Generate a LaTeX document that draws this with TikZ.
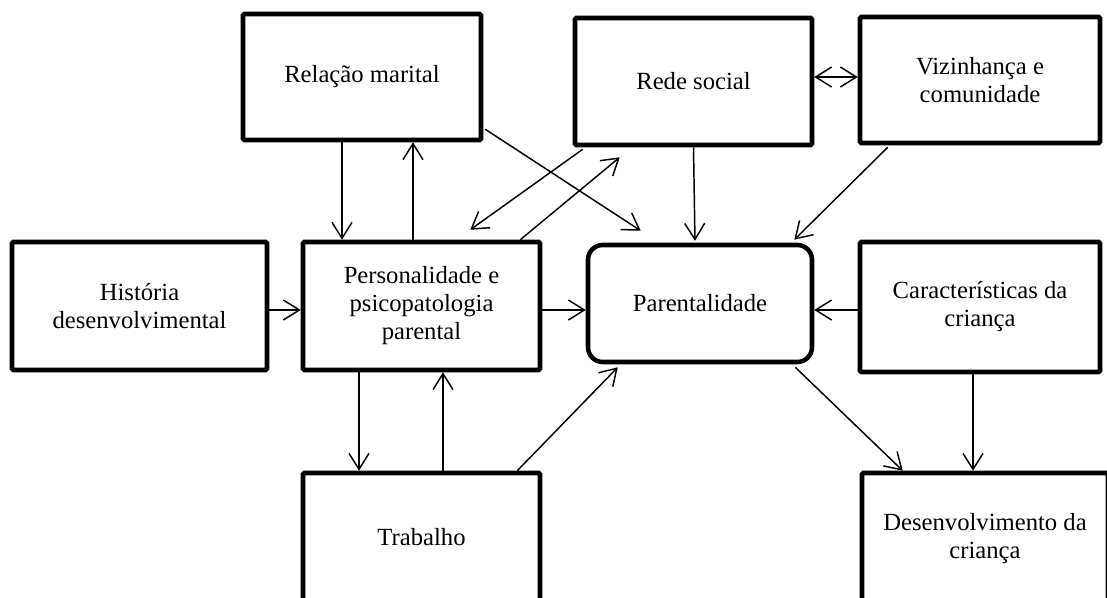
\documentclass[tikz,border=0pt]{standalone}
\usepackage{fontspec}
\setmainfont{Liberation Serif}
\usetikzlibrary{calc,arrows.meta}

\begin{document}
\begin{tikzpicture}[x=0.75pt, y=-0.75pt,
  >={Straight Barb[length=12pt,width=15pt]},
  line width=1.1pt, font=\fontsize{18.5}{21}\selectfont,
  box/.style={draw, line width=3.4pt, rounded corners=1pt, align=center, inner sep=0pt},
  link/.style={->, line width=1.1pt}]
  % x, y in pixels of the page (y runs downwards)
  \useasboundingbox (0,0) rectangle (1107,597);
  \clip (0,0) rectangle (1107,597);

  % boxes
  \node[box, minimum width=178.5pt, minimum height=94.5pt] (rel) at (362,77) {Relação marital};
  \node[box, minimum width=177.75pt, minimum height=95.25pt] (rede) at (693.5,81.5) {Rede social};
  \node[box, minimum width=180pt, minimum height=94.5pt] (viz) at (980,80) {Vizinhança e\\comunidade};
  \node[box, minimum width=191.25pt, minimum height=96pt] (hist) at (139.5,306) {História\\desenvolvimental};
  \node[box, minimum width=177.75pt, minimum height=96pt] (pers) at (421.5,306) {Personalidade e\\psicopatologia\\parental};
  \node[box, rounded corners=11pt, minimum width=168pt, minimum height=87.75pt] (par) at (700,303.5) {Parentalidade};
  \node[box, minimum width=180pt, minimum height=97.5pt] (car) at (980,307) {Características da\\criança};
  \node[box, minimum width=177.75pt, minimum height=96pt] (trab) at (421.5,537) {Trabalho};
  \node[box, minimum width=184.5pt, minimum height=99pt] (des) at (985,539) {Desenvolvimento da\\criança};

  % arrows, top row
  \draw[link] (342,0 |- rel.south) -- (342,0 |- pers.north);
  \draw[link] (413,0 |- pers.north) -- (413,0 |- rel.south);
  \draw[link] ([shift={(2,-13)}]rel.south east) -- ([shift={(55,-12)}]par.north west);
  \draw[link] ([shift={(10,2)}]rede.south west) -- ([shift={(-72,-10)}]pers.north east);
  \draw[link] ([shift={(-22,0)}]pers.north east) -- ([shift={(47,10)}]rede.south west);
  \draw[link] (rede.south) -- ([shift={(-5,-2)}]par.north);
  \draw[<->, line width=1.1pt] (rede.east |- 0,77) -- (viz.west |- 0,77);
  \draw[link] ([shift={(30,2)}]viz.south west) -- ([shift={(-20,-3)}]par.north east);

  % arrows, middle row
  \draw[link] (hist.east |- 0,310) -- (pers.west |- 0,310);
  \draw[link] (pers.east |- 0,310) -- (par.west |- 0,310);
  \draw[link] (car.west |- 0,310) -- (par.east |- 0,310);

  % arrows, bottom row
  \draw[link] (359,0 |- pers.south) -- (359,0 |- trab.north);
  \draw[link] (443,0 |- trab.north) -- (443,0 |- pers.south);
  \draw[link] ([shift={(-25,0)}]trab.north east) -- ([shift={(32,3)}]par.south west);
  \draw[link] ([shift={(-19,3)}]par.south east) -- ([shift={(43,0)}]des.north west);
  \draw[link] (973,0 |- car.south) -- (973,0 |- des.north);
\end{tikzpicture}
\end{document}
